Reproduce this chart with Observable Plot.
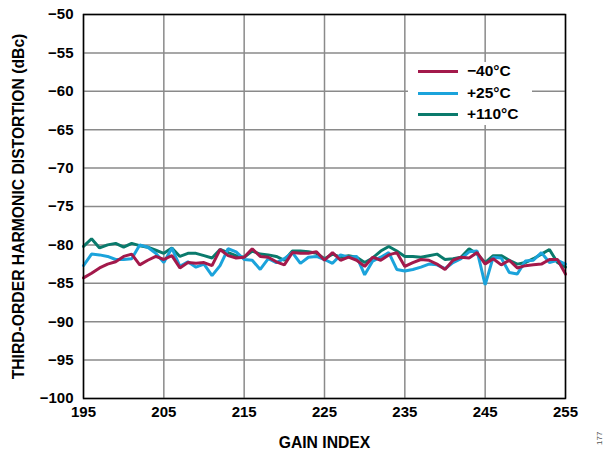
<!DOCTYPE html>
<html>
<head>
<meta charset="utf-8">
<script src="https://cdn.jsdelivr.net/npm/d3@7"></script>
<script src="https://cdn.jsdelivr.net/npm/@observablehq/plot@0.6"></script>
<style>
  html, body { margin: 0; padding: 0; background: #fff; }
  #wrap { position: relative; width: 606px; height: 449px; font-family: "Liberation Sans", Arial, sans-serif; }
  #legend { position: absolute; left: 408px; top: 62px; width: 124px; height: 63px; background: #fff; }
  .lg { position: absolute; left: 0; height: 20px; width: 130px; }
  .lg .sw { position: absolute; left: 10px; top: 8px; width: 40px; height: 3px; }
  .lg .tx { position: absolute; left: 59px; top: 0px; font-size: 15.5px; font-weight: bold; color: #000; line-height: 18px; }
  #code { position: absolute; left: 595px; top: 445px; transform: rotate(-90deg); transform-origin: left top; font-size: 8px; color: #555; font-family: "Liberation Sans", Arial, sans-serif; }
</style>
</head>
<body>
<div id="wrap"></div>
<script>
const gainIndex = [195,196,197,198,199,200,201,202,203,204,205,206,207,208,209,210,211,212,213,214,215,216,217,218,219,220,221,222,223,224,225,226,227,228,229,230,231,232,233,234,235,236,237,238,239,240,241,242,243,244,245,246,247,248,249,250,251,252,253,254,255];

const seriesNames = ["\u221240\u00B0C", "+25\u00B0C", "+110\u00B0C"];
const seriesColors = ["#A3194B", "#1BA3DB", "#0A7A6C"];

const thdMinus40 = [-84.3,-83.7,-83.0,-82.5,-82.2,-81.5,-81.2,-82.6,-82.0,-81.5,-81.9,-81.4,-83.0,-82.3,-82.4,-82.3,-82.7,-80.6,-81.4,-81.7,-81.6,-80.5,-81.5,-81.6,-82.2,-82.6,-81.0,-81.1,-81.1,-80.9,-82.0,-81.0,-82.0,-81.6,-82.0,-82.8,-81.6,-82.0,-81.3,-81.0,-82.8,-82.3,-81.9,-82.0,-82.5,-83.2,-82.0,-81.6,-81.7,-81.0,-82.5,-81.8,-82.6,-82.0,-83.0,-82.7,-82.6,-82.5,-81.9,-81.9,-83.8];

const thdPlus25 = [-82.7,-81.2,-81.3,-81.5,-81.9,-81.9,-81.8,-80.0,-80.3,-81.1,-82.3,-80.4,-82.8,-82.2,-82.9,-82.5,-84.0,-82.7,-80.5,-80.9,-81.9,-82.0,-83.2,-81.8,-82.3,-81.8,-81.0,-82.4,-81.6,-81.5,-81.9,-82.4,-81.3,-81.6,-81.5,-83.9,-82.1,-81.6,-81.0,-83.2,-83.4,-83.2,-82.9,-82.5,-82.6,-83.1,-82.3,-81.8,-80.9,-80.8,-85.2,-81.6,-81.7,-83.6,-83.8,-82.1,-82.0,-81.0,-82.3,-82.0,-82.5];

const thdPlus110 = [-80.2,-79.2,-80.4,-80.0,-79.8,-80.3,-79.8,-80.1,-80.3,-80.7,-81.1,-80.4,-81.5,-81.1,-81.1,-81.4,-81.7,-80.6,-81.0,-81.4,-81.6,-80.8,-81.2,-81.3,-81.5,-82.0,-80.8,-80.8,-80.9,-81.1,-81.8,-81.2,-81.6,-81.4,-81.6,-82.3,-81.7,-80.8,-80.2,-80.8,-81.5,-81.5,-81.6,-81.4,-81.2,-81.9,-81.8,-81.6,-80.5,-81.2,-82.3,-81.4,-81.4,-82.0,-82.5,-82.3,-81.8,-81.2,-80.6,-82.3,-82.9];

const xTicks = [195,205,215,225,235,245,255];
const yTicks = [-100,-95,-90,-85,-80,-75,-70,-65,-60,-55,-50];
const xLabel = "GAIN INDEX";
const yLabel = "THIRD-ORDER HARMONIC DISTORTION (dBc)";
const figCode = "177";

// Draw order: +110 first, then +25, then -40 on top
const seriesValues = [thdMinus40, thdPlus25, thdPlus110];
const rows = [];
[2, 1, 0].forEach(s => {
  gainIndex.forEach((g, i) => rows.push({gain: g, thd: seriesValues[s][i], series: seriesNames[s]}));
});

const chart = Plot.plot({
  width: 606,
  height: 449,
  marginLeft: 83,
  marginRight: 41,
  marginTop: 14,
  marginBottom: 51,
  style: {fontFamily: "'Liberation Sans', Arial, sans-serif", fontSize: "15px", fontWeight: "bold", color: "#000", background: "#fff"},
  x: {domain: [195, 255]},
  y: {domain: [-100, -50]},
  color: {domain: seriesNames, range: seriesColors},
  marks: [
    Plot.gridX(xTicks, {stroke: "#8a8a8a", strokeOpacity: 1, strokeWidth: 1.5}),
    Plot.gridY(yTicks, {stroke: "#8a8a8a", strokeOpacity: 1, strokeWidth: 1.5}),
    Plot.line(rows, {x: "gain", y: "thd", z: "series", stroke: "series", strokeWidth: 3, strokeLinejoin: "miter"}),
    Plot.frame({stroke: "#000", strokeWidth: 1.5}),
    Plot.axisX(xTicks, {tickSize: 0, tickPadding: 8, tickFormat: d => String(d), fontSize: 15, label: null}),
    Plot.axisY(yTicks, {tickSize: 0, tickPadding: 10, fontSize: 15, label: null}),
    Plot.axisX([], {tickSize: 0, fontSize: 15.7, label: xLabel, labelArrow: "none", labelAnchor: "center", labelOffset: 49}),
    Plot.axisY([], {tickSize: 0, fontSize: 15.7, label: yLabel, labelArrow: "none", labelAnchor: "center", labelOffset: 71})
  ]
});

const wrap = document.getElementById("wrap");
wrap.appendChild(chart);

const legend = document.createElement("div");
legend.id = "legend";
seriesNames.forEach((name, i) => {
  const row = document.createElement("div");
  row.className = "lg";
  row.style.top = (i * 21.5) + "px";
  const sw = document.createElement("div");
  sw.className = "sw";
  sw.style.background = seriesColors[i];
  const tx = document.createElement("div");
  tx.className = "tx";
  tx.textContent = name;
  row.appendChild(sw);
  row.appendChild(tx);
  legend.appendChild(row);
});
wrap.appendChild(legend);

const code = document.createElement("div");
code.id = "code";
code.textContent = figCode;
wrap.appendChild(code);
</script>
</body>
</html>
